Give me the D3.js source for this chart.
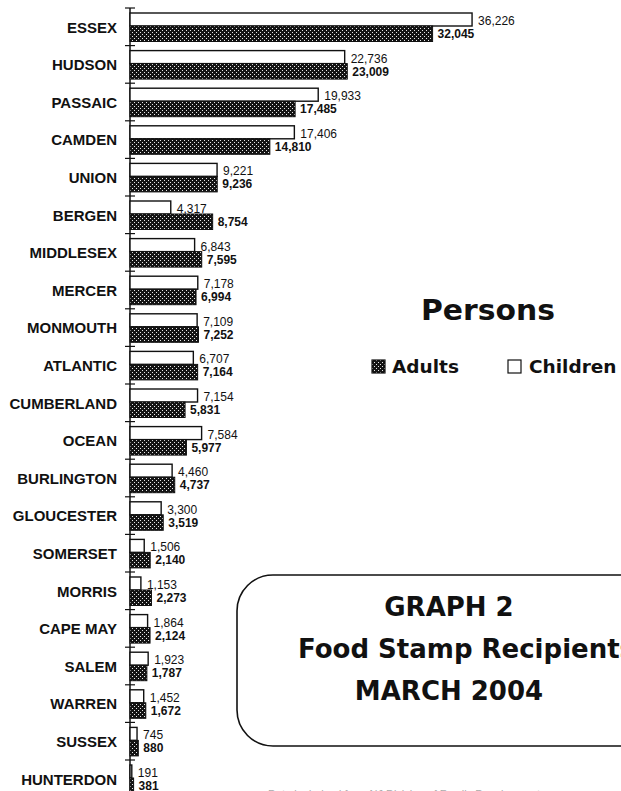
<!doctype html>
<html>
  <head>
    <meta charset="utf-8">
    <title>Food Stamp Recipients March 2004</title>
    <style>
      body { margin: 0; background: #fff; }
      svg { display: block; }
      .county text { font-family: "Liberation Sans", Arial, sans-serif; font-weight: bold; font-size: 15px; fill: #111; }
      .val { font-family: "Liberation Sans", Arial, sans-serif; font-size: 12px; fill: #111; }
      .val.bold { font-weight: bold; }
      .big { font-family: "DejaVu Sans", sans-serif; font-weight: bold; fill: #111; }
    </style>
    <script src="https://cdnjs.cloudflare.com/ajax/libs/d3/7.8.5/d3.min.js"></script>
  </head>
  <body>
    <div id="chart"></div>
    <script>
      // Daten
      const counties = ["ESSEX", "HUDSON", "PASSAIC", "CAMDEN", "UNION", "BERGEN", "MIDDLESEX", "MERCER",
        "MONMOUTH", "ATLANTIC", "CUMBERLAND", "OCEAN", "BURLINGTON", "GLOUCESTER", "SOMERSET", "MORRIS",
        "CAPE MAY", "SALEM", "WARREN", "SUSSEX", "HUNTERDON"];
      const children = [36226, 22736, 19933, 17406, 9221, 4317, 6843, 7178, 7109, 6707, 7154, 7584,
        4460, 3300, 1506, 1153, 1864, 1923, 1452, 745, 191];
      const adults = [32045, 23009, 17485, 14810, 9236, 8754, 7595, 6994, 7252, 7164, 5831, 5977,
        4737, 3519, 2140, 2273, 2124, 1787, 1672, 880, 381];
      const legendLabels = ["Adults", "Children"];
      const titleLines = ["GRAPH 2", "Food Stamp Recipients", "MARCH 2004"];

      const W = 621, H = 791;
      const fmt = d3.format(",");

      const svg = d3.select("#chart").append("svg")
        .attr("width", W).attr("height", H);

      // Punktmuster für die Erwachsenen-Balken
      const defs = svg.append("defs");
      const pat = defs.append("pattern").attr("id", "dots")
        .attr("patternUnits", "userSpaceOnUse").attr("width", 4).attr("height", 4);
      pat.append("rect").attr("width", 4).attr("height", 4).attr("fill", "#141414");
      pat.append("rect").attr("x", 0).attr("y", 0).attr("width", 1).attr("height", 1).attr("fill", "#e8e8e8");
      pat.append("rect").attr("x", 2).attr("y", 2).attr("width", 1).attr("height", 1).attr("fill", "#e8e8e8");

      // Skalen
      const x = d3.scaleLinear().domain([0, 40000]).range([130, 507.7]);
      const y = d3.scaleBand().domain(counties).range([8, 8 + counties.length * 37.6]).padding(0);

      // Achse mit Landkreis-Namen
      svg.append("g").attr("class", "county")
        .attr("transform", "translate(130,0)")
        .call(d3.axisLeft(y).tickSize(0).tickPadding(13))
        .call(g => g.select(".domain").remove())
        .selectAll("text").attr("dy", "0.38em");

      // senkrechte Linie + kleine Querstriche an den Grenzen
      svg.append("line").attr("x1", 130).attr("x2", 130)
        .attr("y1", y.range()[0]).attr("y2", H)
        .attr("stroke", "#111").attr("stroke-width", 1.5);
      svg.selectAll(".tk").data(counties).join("line").attr("class", "tk")
        .attr("x1", 125).attr("x2", 135)
        .attr("y1", d => y(d)).attr("y2", d => y(d))
        .attr("stroke", "#111").attr("stroke-width", 1.2);

      // Kinder-Balken (weiß)
      svg.selectAll(".child").data(counties).join("rect").attr("class", "child")
        .attr("x", x(0))
        .attr("y", d => y(d) + 5)
        .attr("width", (d, i) => x(children[i]) - x(0))
        .attr("height", 13)
        .attr("fill", "#fff").attr("stroke", "#111").attr("stroke-width", 1.4);

      // Erwachsenen-Balken (gemustert)
      svg.selectAll(".adult").data(counties).join("rect").attr("class", "adult")
        .attr("x", x(0))
        .attr("y", d => y(d) + 18)
        .attr("width", (d, i) => x(adults[i]) - x(0))
        .attr("height", 15.5)
        .attr("fill", "url(#dots)").attr("stroke", "#111").attr("stroke-width", 1);

      // Werte
      svg.selectAll(".cval").data(counties).join("text").attr("class", "val")
        .attr("x", (d, i) => x(children[i]) + 6)
        .attr("y", d => y(d) + 17)
        .text((d, i) => fmt(children[i]));
      svg.selectAll(".aval").data(counties).join("text").attr("class", "val bold")
        .attr("x", (d, i) => x(adults[i]) + 5)
        .attr("y", d => y(d) + 30)
        .text((d, i) => fmt(adults[i]));

      // Legende
      svg.append("text").attr("class", "big")
        .attr("x", 421).attr("y", 320).attr("font-size", 29)
        .attr("textLength", 134).attr("lengthAdjust", "spacingAndGlyphs")
        .text("Persons");
      const leg = [
        { label: legendLabels[0], fill: "url(#dots)", bx: 372, tx: 392 },
        { label: legendLabels[1], fill: "#fff", bx: 508, tx: 529 }
      ];
      leg.forEach(l => {
        svg.append("rect").attr("x", l.bx).attr("y", 360).attr("width", 13).attr("height", 13)
          .attr("fill", l.fill).attr("stroke", "#111").attr("stroke-width", 1.2);
        svg.append("text").attr("class", "big").attr("x", l.tx).attr("y", 373)
          .attr("font-size", 18.5).text(l.label);
      });

      // Titel-Kasten (rechts wie im Original abgeschnitten)
      svg.append("rect").attr("x", 237).attr("y", 575).attr("width", 460).attr("height", 171)
        .attr("rx", 36).attr("ry", 36)
        .attr("fill", "none").attr("stroke", "#111").attr("stroke-width", 1.6);
      svg.append("text").attr("class", "big").attr("x", 449).attr("y", 616)
        .attr("text-anchor", "middle").attr("font-size", 26).text(titleLines[0]);
      svg.append("text").attr("class", "big").attr("x", 298).attr("y", 658)
        .attr("font-size", 26).text(titleLines[1]);
      svg.append("text").attr("class", "big").attr("x", 449).attr("y", 700)
        .attr("text-anchor", "middle").attr("font-size", 26).text(titleLines[2]);

      // Quelle, unten fast abgeschnitten
      svg.append("text").attr("x", 268).attr("y", 798)
        .attr("font-family", "Liberation Sans, Arial, sans-serif").attr("font-size", 11)
        .attr("fill", "#aaa").text("Data is derived from NJ Division of Family Development");
    </script>
  </body>
</html>
